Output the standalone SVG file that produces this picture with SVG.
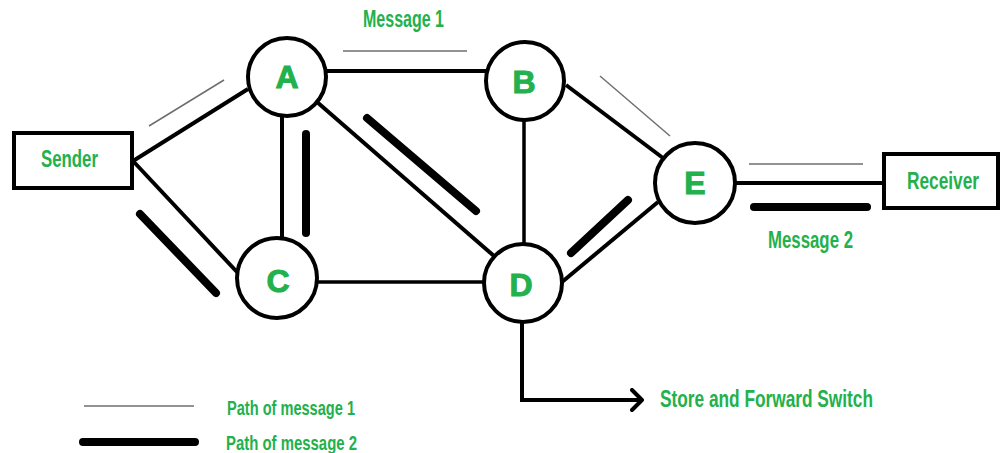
<svg xmlns="http://www.w3.org/2000/svg" width="1000" height="453" viewBox="0 0 1000 453">
<defs>
<style>
.node{fill:#fff;stroke:#000;stroke-width:4}
.edge{stroke:#000;stroke-width:4;fill:none}
.m1{stroke:#6e6e6e;stroke-width:1.5;fill:none}
.m2{stroke:#000;stroke-width:8;stroke-linecap:round;fill:none}
.ltr{font-family:"Liberation Sans",Arial,sans-serif;font-weight:900;font-size:32px;fill:#22b14c;stroke:#22b14c;stroke-width:1;text-anchor:middle}
.lbl{font-family:"Liberation Sans",Arial,sans-serif;font-weight:bold;fill:#22b14c}
</style>
<marker id="chev" markerWidth="14" markerHeight="24" refX="12" refY="12" orient="auto" markerUnits="userSpaceOnUse">
<path d="M2,2 L12,12 L2,22" fill="none" stroke="#000" stroke-width="4" stroke-linecap="round" stroke-linejoin="round"/>
</marker>
</defs>
<rect width="1000" height="453" fill="#fff"/>
<g id="connectors">
<line class="edge" x1="133" y1="161" x2="248" y2="89"/>
<line class="edge" x1="133" y1="161" x2="237" y2="272"/>
<line class="edge" x1="326" y1="71" x2="486" y2="71"/>
<line class="edge" x1="282" y1="115" x2="282" y2="239"/>
<line class="edge" x1="317" y1="102" x2="494" y2="256"/>
<line class="edge" x1="524" y1="120" x2="524" y2="245" style="stroke-width:3.5"/>
<line class="edge" x1="566" y1="85" x2="663" y2="158"/>
<line class="edge" x1="317" y1="282" x2="483" y2="282" style="stroke-width:3.5"/>
<line class="edge" x1="562" y1="282" x2="658" y2="202"/>
<line class="edge" x1="735" y1="183" x2="884" y2="183"/>
<path class="edge" d="M522,321 V400 H642" marker-end="url(#chev)"/>
<line class="m1" x1="149" y1="126" x2="224" y2="80"/>
<line class="m1" x1="343" y1="51" x2="467" y2="51"/>
<line class="m1" x1="600" y1="76" x2="670" y2="136"/>
<line class="m1" x1="749" y1="164" x2="863" y2="164"/>
<line class="m2" x1="140" y1="214" x2="216" y2="293"/>
<line class="m2" x1="306" y1="134" x2="306" y2="233"/>
<line class="m2" x1="367" y1="118" x2="476" y2="211"/>
<line class="m2" x1="628" y1="200" x2="571" y2="253"/>
<line class="m2" x1="754" y1="207" x2="867" y2="207"/>
</g>
<g id="sender"><rect class="node" x="14" y="133" width="118" height="55"/><text class="lbl" x="41" y="167" font-size="23" textLength="57" lengthAdjust="spacingAndGlyphs">Sender</text></g>
<g id="receiver"><rect class="node" x="884" y="154" width="114" height="54"/><text class="lbl" x="907" y="189" font-size="23" textLength="72" lengthAdjust="spacingAndGlyphs">Receiver</text></g>
<g id="A"><circle class="node" cx="287" cy="77" r="39"/><text class="ltr" x="287" y="88">A</text></g>
<g id="B"><circle class="node" cx="525" cy="81" r="39"/><text class="ltr" x="524" y="93">B</text></g>
<g id="C"><circle class="node" cx="277" cy="278" r="40"/><text class="ltr" x="278" y="292">C</text></g>
<g id="D"><circle class="node" cx="523" cy="283" r="39"/><text class="ltr" x="521" y="296">D</text></g>
<g id="E"><circle class="node" cx="695" cy="183" r="40"/><text class="ltr" x="695" y="194">E</text></g>
<g id="labels">
<text class="lbl" x="363" y="27" font-size="23" textLength="81" lengthAdjust="spacingAndGlyphs">Message 1</text>
<text class="lbl" x="768" y="248" font-size="23" textLength="85" lengthAdjust="spacingAndGlyphs">Message 2</text>
<text class="lbl" x="660" y="407" font-size="24" textLength="213" lengthAdjust="spacingAndGlyphs">Store and Forward Switch</text>
</g>
<g id="legend">
<line class="m1" x1="84" y1="406" x2="194" y2="406"/>
<line class="m2" x1="83" y1="442" x2="195" y2="442"/>
<text class="lbl" x="227" y="415" font-size="21" textLength="128" lengthAdjust="spacingAndGlyphs">Path of message 1</text>
<text class="lbl" x="226" y="450" font-size="21" textLength="131" lengthAdjust="spacingAndGlyphs">Path of message 2</text>
</g>
</svg>
